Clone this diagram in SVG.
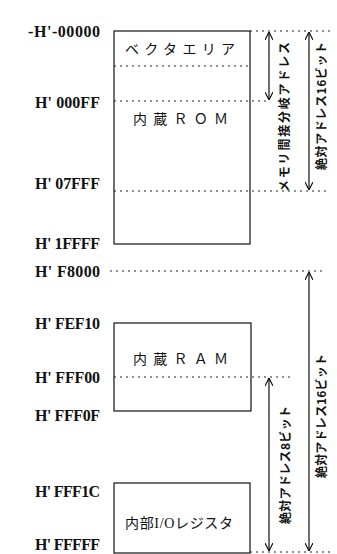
<svg xmlns="http://www.w3.org/2000/svg" width="337" height="554" viewBox="0 0 337 554">
<style>
.addr{font-family:"Liberation Serif",serif;font-weight:bold;font-size:16px;fill:#111}
.lbl{font-family:"Liberation Serif","Noto Sans CJK JP",serif;font-size:14px;fill:#111}
.vl{font-family:"Noto Sans CJK JP",sans-serif;font-size:12px;font-weight:bold;fill:#111}
.box{fill:#fff;stroke:#111;stroke-width:1.2}
.dot{stroke:#222;stroke-width:1;stroke-dasharray:2 4;fill:none}
.arr{stroke:#111;stroke-width:1.2;fill:none;marker-start:url(#ah);marker-end:url(#ah)}
</style>
<defs>
<marker id="ah" viewBox="0 0 10 10" refX="10" refY="5" markerWidth="8" markerHeight="8" orient="auto-start-reverse" markerUnits="userSpaceOnUse">
<path d="M0,0 L10,5 L0,10" fill="none" stroke="#111" stroke-width="1.5"/>
</marker>
</defs>
<rect width="337" height="554" fill="#fff"/>
<g id="addresses">
<text class="addr" x="100" y="37" text-anchor="end" textLength="72">-H'-00000</text>
<text class="addr" x="100" y="108" text-anchor="end" textLength="65">H' 000FF</text>
<text class="addr" x="100" y="189" text-anchor="end" textLength="65">H' 07FFF</text>
<text class="addr" x="100" y="249" text-anchor="end" textLength="65">H' 1FFFF</text>
<text class="addr" x="100" y="277" text-anchor="end" textLength="65">H' F8000</text>
<text class="addr" x="100" y="329" text-anchor="end" textLength="65">H' FEF10</text>
<text class="addr" x="100" y="383" text-anchor="end" textLength="65">H' FFF00</text>
<text class="addr" x="100" y="421" text-anchor="end" textLength="65">H' FFF0F</text>
<text class="addr" x="100" y="497" text-anchor="end" textLength="65">H' FFF1C</text>
<text class="addr" x="100" y="550" text-anchor="end" textLength="65">H' FFFFF</text>
</g>
<g id="rom">
<rect class="box" x="114" y="31" width="136" height="213"/>
<line class="dot" x1="114" y1="66" x2="250" y2="66"/>
<text class="lbl" x="125" y="54" textLength="110">ベクタエリア</text>
<text class="lbl" x="133" y="124" textLength="95">内蔵ＲＯＭ</text>
</g>
<g id="ram">
<rect class="box" x="114" y="323" width="137" height="88"/>
<text class="lbl" x="133" y="364" textLength="95">内蔵ＲＡＭ</text>
</g>
<g id="io">
<rect class="box" x="114" y="483" width="136" height="70"/>
<text class="lbl" x="125" y="528" font-size="13" textLength="108">内部I/Oレジスタ</text>
</g>
<g id="connectors">
<line class="dot" x1="250" y1="31" x2="330" y2="31"/>
<line class="dot" x1="114" y1="101" x2="270" y2="101"/>
<line class="dot" x1="114" y1="191" x2="330" y2="191"/>
<line class="dot" x1="110" y1="271" x2="325" y2="271"/>
<line class="dot" x1="114" y1="377" x2="290" y2="377"/>
<line class="dot" x1="250" y1="552" x2="330" y2="552"/>
<line class="arr" x1="269" y1="32" x2="269" y2="100"/>
<line class="arr" x1="309" y1="32" x2="309" y2="190"/>
<line class="arr" x1="309" y1="272" x2="309" y2="551"/>
<line class="arr" x1="269" y1="378" x2="269" y2="551"/>
</g>
<g id="labels">
<text class="vl" transform="translate(289,117) rotate(-90)" text-anchor="middle" textLength="150">メモリ間接分岐アドレス</text>
<text class="vl" transform="translate(326,106) rotate(-90)" text-anchor="middle" textLength="128">絶対アドレス16ビット</text>
<text class="vl" transform="translate(290,465) rotate(-90)" text-anchor="middle" textLength="118">絶対アドレス8ビット</text>
<text class="vl" transform="translate(326,416) rotate(-90)" text-anchor="middle" textLength="124">絶対アドレス16ビット</text>
</g>
</svg>
